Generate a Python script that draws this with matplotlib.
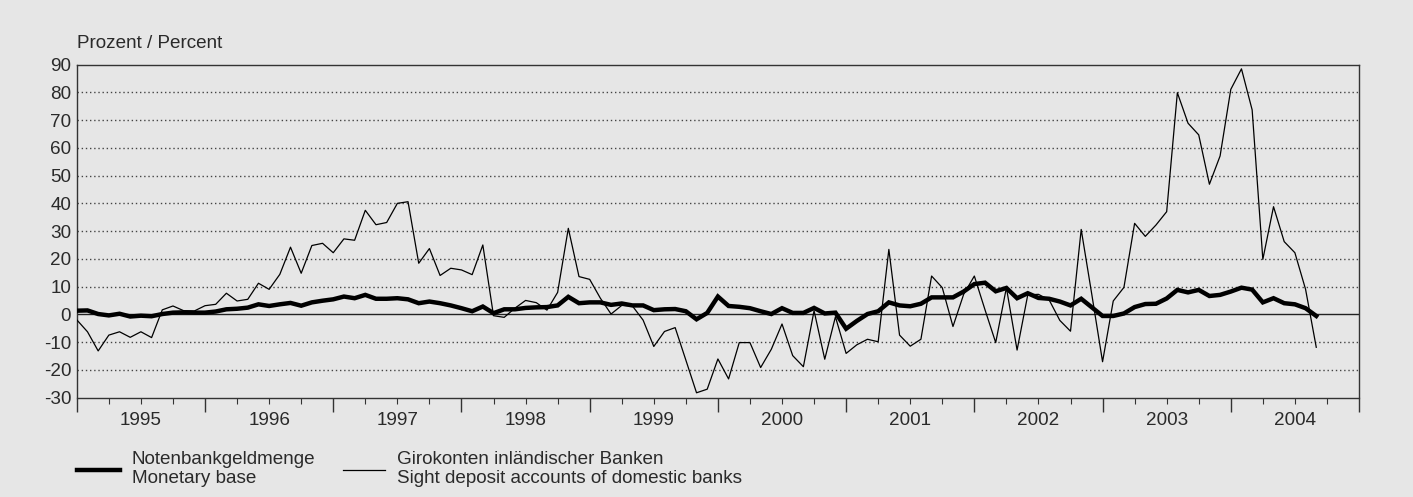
import numpy as np
import matplotlib
matplotlib.use("Agg")
import matplotlib.pyplot as plt
from matplotlib.lines import Line2D

plt.rcParams['font.family'] = ['Liberation Sans', 'DejaVu Sans']

# monthly values, Jan 1995 .. Sep 2004
years = ['1995', '1996', '1997', '1998', '1999', '2000', '2001', '2002', '2003', '2004']

monetary_base = [
    1.3, 1.4, 0.1, -0.4, 0.2, -0.8, -0.5, -0.7, 0.1, 0.6, 0.7, 0.6,
    0.6, 1.0, 1.8, 2.0, 2.4, 3.6, 3.0, 3.6, 4.1, 3.1, 4.3, 4.9,
    5.4, 6.4, 5.8, 7.0, 5.6, 5.6, 5.8, 5.4, 4.0, 4.6, 4.0, 3.2,
    2.2, 1.1, 2.8, 0.4, 1.8, 1.8, 2.3, 2.5, 2.6, 3.2, 6.3, 4.0,
    4.3, 4.3, 3.4, 3.9, 3.2, 3.2, 1.5, 1.8, 1.9, 1.1, -1.8, 0.5,
    6.4, 3.0, 2.7, 2.2, 1.1, 0.1, 2.2, 0.5, 0.5, 2.3, 0.3, 0.6,
    -5.2, -2.4, 0.1, 1.1, 4.3, 3.2, 2.9, 3.8, 6.1, 6.1, 6.1, 8.2,
    10.9, 11.4, 8.3, 9.5, 5.8, 7.6, 5.9, 5.6, 4.6, 3.2, 5.6, 2.5,
    -0.6, -0.6, 0.3, 2.6, 3.7, 3.8, 5.7, 8.8, 7.9, 8.8, 6.6, 7.0,
    8.2, 9.6, 8.9, 4.3, 5.8, 4.0, 3.6, 2.2, -0.6,
]

sight_deposits = [
    -2.0, -6.3, -13.2, -7.5, -6.3, -8.3, -6.3, -8.4, 1.6, 3.0, 1.3, 1.2,
    3.1, 3.6, 7.6, 4.8, 5.4, 11.2, 9.0, 14.4, 24.2, 14.8, 24.8, 25.6,
    22.2, 27.2, 26.7, 37.5, 32.3, 33.1, 40.0, 40.6, 18.4, 23.7, 14.0, 16.6,
    16.0, 14.3, 25.0, -0.5, -1.1, 2.2, 5.0, 4.2, 1.5, 7.9, 31.0, 13.6,
    12.6, 5.8, 0.1, 3.2, 3.0, -2.1, -11.6, -6.2, -4.8, -16.5, -28.3, -27.0,
    -16.1, -23.3, -10.2, -10.2, -19.2, -12.6, -3.5, -14.9, -18.9, 1.3, -16.2, -0.9,
    -14.1, -11.0, -9.0, -9.9, 23.4, -7.5, -11.5, -9.0, 13.8, 9.6, -4.4, 7.2,
    13.8, 1.6, -10.2, 9.6, -12.9, 7.0, 7.2, 5.2, -2.2, -6.1, 30.6, 7.0,
    -17.1, 4.8, 9.7, 32.8, 28.1, 32.2, 37.0, 79.9, 68.9, 64.7, 46.9, 57.1,
    81.1, 88.5, 73.7, 19.8, 38.8, 26.2, 22.2, 9.0, -11.9,
]

bg = '#e6e6e6'
fs = 13.6
tc = '#2a2a2a'
W, H = 1413, 497
fig = plt.figure(figsize=(W / 100, H / 100), dpi=100, facecolor=bg)
ax = fig.add_axes([76.8 / W, 1 - 397.5 / H, (1359 - 76.8) / W, (397.5 - 64.7) / H])
ax.set_facecolor(bg)

months = np.arange(len(sight_deposits))
ax.plot(months, sight_deposits, color='black', lw=0.9, zorder=3)
ax.plot(np.arange(len(monetary_base)), monetary_base, color='black', lw=3.2,
        solid_joinstyle='miter', zorder=4)

ax.set_xlim(0, 120)
ax.set_ylim(-30, 90)

# horizontal dotted grid + zero line
for v in range(-20, 90, 10):
    if v == 0:
        continue
    ax.axhline(v, color='#444444', lw=1.0, ls=(0, (1, 2)), zorder=1)
ax.axhline(0, color='#222222', lw=1.0, zorder=2)

for s in ax.spines.values():
    s.set_color('#333333')
    s.set_linewidth(1.0)

ax.set_yticks(range(-30, 91, 10))
ax.set_yticklabels([str(v) for v in range(-30, 91, 10)], fontsize=fs, color=tc)
ax.tick_params(axis='y', length=0, pad=4)

ax.set_xticks(np.arange(0, 121, 12))
ax.set_xticklabels([])
ax.set_xticks([m for m in range(0, 121, 3) if m % 12 != 0], minor=True)
ax.tick_params(axis='x', which='major', length=10, width=1.0, color='#333333', direction='out')
ax.tick_params(axis='x', which='minor', length=4, width=0.8, color='#333333', direction='out')

for k, yr in enumerate(years):
    ax.text(6 + 12 * k, -0.0706, yr, transform=ax.get_xaxis_transform(),
            ha='center', va='center', fontsize=fs, color=tc)

fig.text(77.3 / W, 1 - 43.3 / H, 'Prozent / Percent', ha='left', va='center',
         fontsize=fs, color=tc)

# legend
fig.add_artist(Line2D([76.7 / W, 120 / W], [1 - 470 / H, 1 - 470 / H],
                      transform=fig.transFigure, color='black', lw=3.2))
fig.text(131.7 / W, 1 - 460 / H, 'Notenbankgeldmenge', ha='left', va='center',
         fontsize=fs, color=tc)
fig.text(131.7 / W, 1 - 478.5 / H, 'Monetary base', ha='left', va='center',
         fontsize=fs, color=tc)
fig.add_artist(Line2D([342.7 / W, 385 / W], [1 - 470 / H, 1 - 470 / H],
                      transform=fig.transFigure, color='black', lw=0.9))
fig.text(397.3 / W, 1 - 460 / H, 'Girokonten inländischer Banken', ha='left', va='center',
         fontsize=fs, color=tc)
fig.text(397.3 / W, 1 - 478.5 / H, 'Sight deposit accounts of domestic banks', ha='left',
         va='center', fontsize=fs, color=tc)

fig.savefig('out.png', dpi=100, facecolor=bg)
